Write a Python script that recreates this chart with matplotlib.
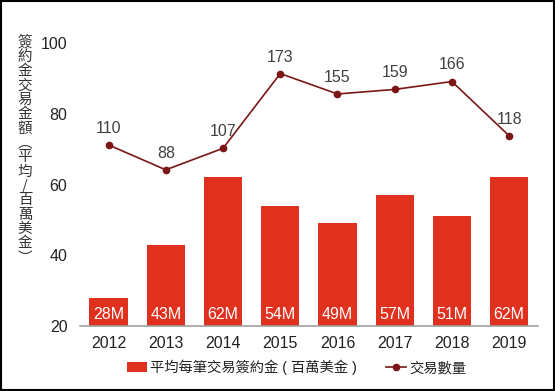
import matplotlib
matplotlib.use("Agg")
import matplotlib.pyplot as plt
from matplotlib.patches import Rectangle

plt.rcParams['font.family'] = ['Liberation Sans', 'Noto Sans CJK TC', 'DejaVu Sans']

years = ['2012', '2013', '2014', '2015', '2016', '2017', '2018', '2019']
avg_amount = [28, 43, 62, 54, 49, 57, 51, 62]
deal_count = [110, 88, 107, 173, 155, 159, 166, 118]
bar_labels = ['28M', '43M', '62M', '54M', '49M', '57M', '51M', '62M']
ylabel_text = '簽約金交易金額︵平均/百萬美金︶'
legend_bar = '平均每筆交易簽約金 ( 百萬美金 )'
legend_line = '交易數量'

bar_color = '#E0301E'
line_color = '#7A1616'
text_gray = '#404040'

fig = plt.figure(figsize=(5.55, 3.91), dpi=100)
ax = fig.add_axes([0.144, 0.166, 0.825, 0.724])
x = list(range(len(years)))
bars = ax.bar(x, avg_amount, width=0.67, color=bar_color, bottom=0, zorder=2,
              label=legend_bar)
ax.set_ylim(20, 100)
ax.set_xlim(-0.5, len(years) - 0.5)
ax.set_yticks([20, 40, 60, 80, 100])
ax.tick_params(axis='y', length=0, labelsize=11.5, colors='#222222', pad=9)
ax.tick_params(axis='x', length=0, labelsize=11.5, colors='#222222', pad=7)
ax.set_xticks(x)
ax.set_xticklabels(years)
for s in ['top', 'right', 'left']:
    ax.spines[s].set_visible(False)
ax.spines['bottom'].set_color('#A0A0A0')
ax.spines['bottom'].set_linewidth(1.2)

for xi, lab in zip(x, bar_labels):
    ax.text(xi, 21.2, lab, ha='center', va='bottom', color='white', fontsize=11.5, zorder=3)

ax2 = ax.twinx()
ax2.set_ylim(-50, 200)
ax2.axis('off')
ln, = ax2.plot(x, deal_count, color=line_color, marker='o', markersize=4.5,
               linewidth=1.2, label=legend_line, zorder=4)
for xi, v in zip(x, deal_count):
    ax2.text(xi, v + 8, str(v), ha='center', va='bottom', color=text_gray, fontsize=11.5)

fig.text(0.045, 0.91, '\n'.join(ylabel_text), ha='center', va='top', fontsize=10.5,
         color='#333333', linespacing=1.03, family=['Noto Sans CJK TC', 'DejaVu Sans'])

leg = fig.legend([bars, ln], [legend_bar, legend_line], loc='center', ncol=2,
                 bbox_to_anchor=(0.534, 0.06), frameon=False,
                 handlelength=1.45, columnspacing=2.0, handletextpad=0.2,
                 prop={'family': ['Liberation Sans', 'Noto Sans CJK TC', 'DejaVu Sans'],
                       'size': 10.3})
for t in leg.get_texts():
    t.set_color('#222222')

fig.patches.append(Rectangle((0.002, 0.002), 0.996, 0.996, transform=fig.transFigure,
                             fill=False, edgecolor='black', linewidth=1.5))
fig.savefig('out.png', dpi=100)
